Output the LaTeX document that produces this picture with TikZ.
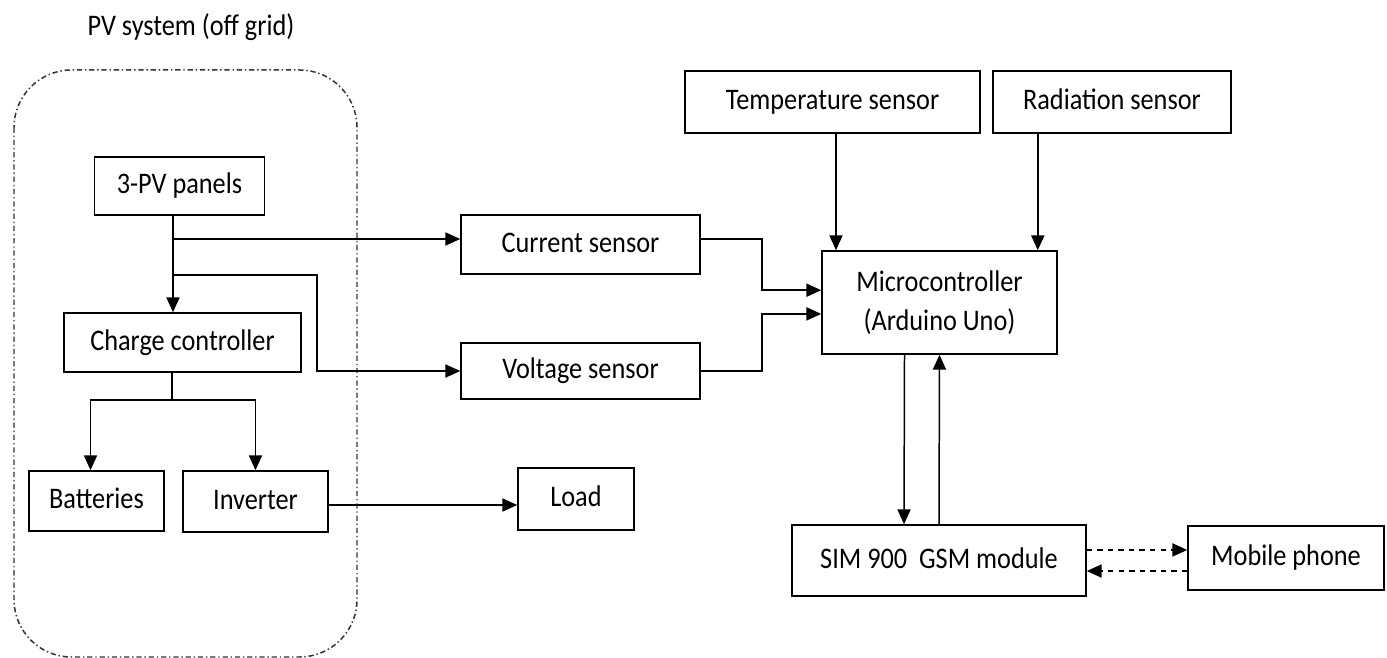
\documentclass[tikz,border=0pt]{standalone}
\usepackage{fontspec}
\setmainfont{Carlito}[FakeStretch=0.88]
\usetikzlibrary{arrows.meta,positioning,calc}

\begin{document}
\begin{tikzpicture}[x=0.02cm,y=-0.02cm,>={Triangle[length=8.5pt,width=7.5pt]},font=\fontsize{17}{20}\selectfont,line width=0.85pt]
\tikzstyle{blk}=[draw,line width=0.9pt,inner sep=0pt]
\tikzstyle{tb}=[blk,text height=0.86em,text depth=0pt]
\useasboundingbox (0,0) rectangle (1387,658);
\node (title) at (191,27) {PV system (off grid)};
\draw[black!80,dash pattern=on 3pt off 1.6pt on 0.8pt off 1.6pt,rounded corners=1.15cm] (14,70) rectangle (357,657);
% PV side
\node[tb,minimum width=3.4cm,minimum height=1.16cm] (pv) at (179.5,186) {3-PV panels};
\node[tb,minimum width=4.74cm,minimum height=1.18cm] (cc) at (182.5,342.5) {Charge controller};
\node[tb,minimum width=2.7cm,minimum height=1.2cm] (bat) at (96.5,501) {Batteries};
\node[tb,minimum width=2.9cm,minimum height=1.22cm] (inv) at (255.5,501.5) {Inverter};
\node[tb,minimum width=2.32cm,minimum height=1.24cm] (load) at (576,499) {Load};
% sensors
\node[tb,minimum width=4.78cm,minimum height=1.18cm] (cur) at (580.5,244.5) {Current sensor};
\node[tb,minimum width=4.78cm,minimum height=1.12cm] (vol) at (580.5,371) {Voltage sensor};
\node[tb,minimum width=5.9cm,minimum height=1.24cm] (temp) at (832.5,102) {Temperature sensor};
\node[tb,minimum width=4.76cm,minimum height=1.24cm] (rad) at (1112,102) {Radiation sensor};
\node[blk,minimum width=4.7cm,minimum height=2.06cm,align=center] (mcu) at (939.5,302.5) {Microcontroller\\[2pt](Arduino Uno)};
\node[tb,minimum width=5.88cm,minimum height=1.42cm] (sim) at (939,560.5) {SIM 900\ \ GSM module};
\node[tb,minimum width=3.92cm,minimum height=1.28cm] (mob) at (1286,558) {Mobile phone};
% junctions
\coordinate (jpv) at (173,239);
\coordinate (jv) at (173,275);
\coordinate (kv) at (317,275);
\coordinate (jcc) at (172,400);
\draw[->] (pv.south -| jpv) -- (cc.north -| jpv);
\draw[->] (jpv) -- (jpv -| cur.west);
\draw[->] (jv) -- (kv) |- (vol.west);
\draw (cc.south -| jcc) -- (jcc);
\draw[->] (jcc) -| ([xshift=-0.12cm]bat.north);
\draw[->] (jcc) -| (inv.north);
\draw[->] ([yshift=-2pt]inv.east) -- ([yshift=-2pt]inv.east -| load.west);
\draw[->] ([yshift=3pt]cur.east) -- ++(61,0) |- ([yshift=7pt]mcu.west);
\draw[->] (vol.east) -- ++(61,0) |- ([yshift=-6.5pt]mcu.west);
\draw[->] ([xshift=0.07cm]temp.south) -- ([xshift=0.07cm]temp.south |- mcu.north);
\draw[->] ([xshift=-0.4cm]mcu.north east |- rad.south) -- ([xshift=-0.4cm]mcu.north east);
\draw[->] ([xshift=-0.7cm]mcu.south) -- ([xshift=-0.7cm]sim.north);
\draw[->] (sim.north) -- (mcu.south);
\draw[->,dashed] ([yshift=6pt]sim.east) -- ([yshift=6pt]sim.east -| mob.west);
\draw[->,dashed] ([yshift=-6pt]sim.east -| mob.west) -- ([yshift=-6pt]sim.east);
\end{tikzpicture}
\end{document}
